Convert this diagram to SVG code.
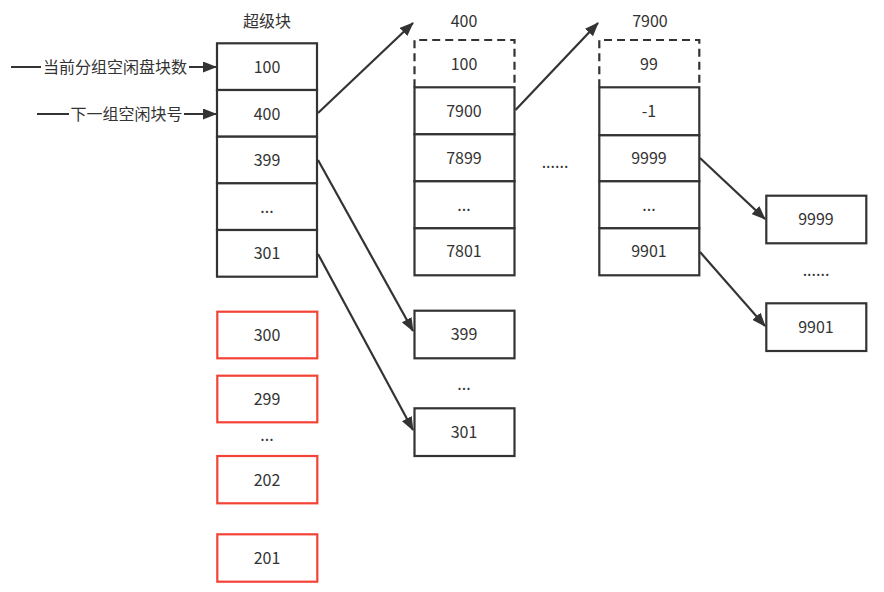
<svg xmlns="http://www.w3.org/2000/svg" width="884" height="592" viewBox="0 0 884 592">
<style>
text{font-family:"Noto Sans CJK SC","Noto Sans",sans-serif;font-size:16px;fill:#333;text-anchor:middle;dominant-baseline:central}
.c{fill:#fff;stroke:#333;stroke-width:2.2}
.d{fill:#fff;stroke:#333;stroke-width:2.2;stroke-dasharray:8 5}
.r{fill:#fff;stroke:#f44336;stroke-width:2.2}
.e{fill:none;stroke:#333;stroke-width:2.2}
</style>
<defs>
<marker id="ah" markerWidth="14" markerHeight="11" refX="13" refY="5.5" orient="auto" markerUnits="userSpaceOnUse">
<path d="M0,0 L14,5.5 L0,11 Z" fill="#333"/>
</marker>
</defs>
<rect width="884" height="592" fill="#fff"/>

<text x="267" y="20">超级块</text>
<text x="464" y="20">400</text>
<text x="650" y="20">7900</text>

<g id="superblock">
<rect class="c" x="217" y="43.3" width="100" height="46.7"/>
<text x="267" y="66">100</text>
<rect class="c" x="217" y="90" width="100" height="46.7"/>
<text x="267" y="113">400</text>
<rect class="c" x="217" y="136.7" width="100" height="46.7"/>
<text x="267" y="159">399</text>
<rect class="c" x="217" y="183.3" width="100" height="46.7"/>
<text x="267" y="206">...</text>
<rect class="c" x="217" y="230" width="100" height="46.7"/>
<text x="267" y="252">301</text>
</g>

<g id="block400">
<path class="d" d="M414.5,87.3 V40 H514.5 V87.3" fill="none"/>
<text x="464" y="63">100</text>
<rect class="c" x="414.5" y="87.3" width="100" height="47"/>
<text x="464" y="110">7900</text>
<rect class="c" x="414.5" y="134.3" width="100" height="47"/>
<text x="464" y="157">7899</text>
<rect class="c" x="414.5" y="181.3" width="100" height="47"/>
<text x="464" y="204">...</text>
<rect class="c" x="414.5" y="228.3" width="100" height="47"/>
<text x="464" y="250">7801</text>
</g>

<g id="block7900">
<path class="d" d="M599.3,87.3 V40 H699.3 V87.3" fill="none"/>
<text x="649" y="63">99</text>
<rect class="c" x="599.3" y="87.3" width="100" height="48"/>
<text x="649" y="110">-1</text>
<rect class="c" x="599.3" y="135.3" width="100" height="46"/>
<text x="649" y="157">9999</text>
<rect class="c" x="599.3" y="181.3" width="100" height="47"/>
<text x="649" y="204">...</text>
<rect class="c" x="599.3" y="228.3" width="100" height="47"/>
<text x="649" y="250">9901</text>
</g>

<g id="b399"><rect class="c" x="414.5" y="310.7" width="100" height="47.6"/><text x="464" y="333">399</text></g>
<g id="b301"><rect class="c" x="414.5" y="408.3" width="100" height="47.7"/><text x="464" y="431">301</text></g>
<text x="464" y="383">...</text>

<g id="b9999"><rect class="c" x="766.3" y="195.7" width="100" height="47.6"/><text x="816" y="218">9999</text></g>
<g id="b9901"><rect class="c" x="766.3" y="303.3" width="100" height="47.7"/><text x="816" y="326">9901</text></g>
<text x="816" y="269">......</text>
<text x="555" y="161">......</text>

<g id="r300"><rect class="r" x="217.3" y="311.7" width="100" height="46.6"/><text x="267" y="334">300</text></g>
<g id="r299"><rect class="r" x="217.3" y="375.7" width="100" height="46.6"/><text x="267" y="398">299</text></g>
<text x="267" y="434">...</text>
<g id="r202"><rect class="r" x="217.3" y="456" width="100" height="47.3"/><text x="267" y="479">202</text></g>
<g id="r201"><rect class="r" x="217.3" y="534.3" width="100" height="47.4"/><text x="267" y="557">201</text></g>

<g id="connectors">
<line class="e" x1="11" y1="67" x2="216" y2="67" marker-end="url(#ah)"/>
<rect x="41" y="57" width="148" height="20" fill="#fff"/>
<text x="115" y="66">当前分组空闲盘块数</text>
<line class="e" x1="37" y1="114" x2="216" y2="114" marker-end="url(#ah)"/>
<rect x="69" y="104" width="115" height="20" fill="#fff"/>
<text x="126.5" y="113">下一组空闲块号</text>
<line class="e" x1="318" y1="113" x2="413" y2="23" marker-end="url(#ah)"/>
<line class="e" x1="515.5" y1="110" x2="598" y2="23" marker-end="url(#ah)"/>
<line class="e" x1="318" y1="160" x2="413" y2="331" marker-end="url(#ah)"/>
<line class="e" x1="318" y1="254" x2="413" y2="430" marker-end="url(#ah)"/>
<line class="e" x1="700" y1="158" x2="765" y2="219" marker-end="url(#ah)"/>
<line class="e" x1="700" y1="252" x2="765" y2="326" marker-end="url(#ah)"/>
</g>
</svg>
